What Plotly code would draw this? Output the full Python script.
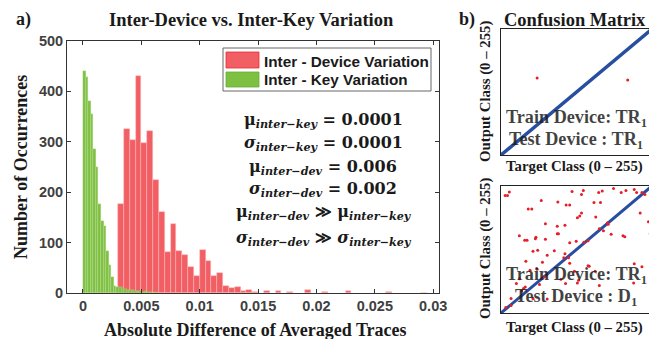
import plotly.graph_objects as go

# ---------------- data ----------------
# Inter-Device variation histogram (bin centers, counts)
red_centers = [0.00325, 0.00375, 0.00425, 0.00475, 0.00525, 0.00575, 0.00625, 0.00675,
               0.00725, 0.00775, 0.00825, 0.00875, 0.00925, 0.00975, 0.01025, 0.01075,
               0.01125, 0.01175, 0.01225, 0.01275, 0.01325, 0.01375, 0.01425, 0.01475,
               0.01575, 0.01675, 0.01775, 0.01925, 0.02075, 0.02275, 0.02625, 0.02925]
red_counts = [176, 325, 303, 431, 297, 321, 224, 160,
              81, 137, 83, 75, 52, 33, 85, 63,
              34, 39, 14, 9, 11, 3, 5, 2,
              4, 3, 2, 5, 2, 4, 2, 1]

# Inter-Key variation histogram (bin centers, counts)
green_centers = [0.00011, 0.00033, 0.00055, 0.00077, 0.00099, 0.00121, 0.00143, 0.00165,
                 0.00187, 0.00209, 0.00231, 0.00253, 0.00275, 0.00297, 0.00319, 0.00341,
                 0.00363, 0.00385, 0.00407, 0.00429, 0.00451, 0.00473, 0.00495, 0.00517,
                 0.00539, 0.00561, 0.00583, 0.00605, 0.00627]
green_counts = [441, 429, 381, 356, 285, 251, 177, 143,
                132, 84, 56, 32, 14, 12, 11, 9,
                7, 6, 5, 6, 4, 3, 4, 2,
                3, 2, 2, 1, 2]

x_tick_vals = [0, 0.005, 0.01, 0.015, 0.02, 0.025, 0.03]
x_tick_text = ["0", "0.005", "0.01", "0.015", "0.02", "0.025", "0.03"]
y_tick_vals = [0, 100, 200, 300, 400, 500]

# Confusion matrix misclassifications (target class, output class)
cm1_target = [61, 214]
cm1_output = [156, 152]

cm2_target = [7, 11, 14, 46, 52, 68, 96, 110, 116, 120, 139, 136, 133, 129, 136, 157, 165, 171,
              168, 190, 203, 211, 225, 229, 238, 243, 235, 249, 252, 75, 95, 108, 160, 181,
              180, 166, 173, 186, 206, 209, 31, 40, 44, 59, 58, 75, 95, 97, 116, 127, 140,
              147, 90, 54, 62, 78, 70, 42, 108, 106, 114, 147, 149, 116, 225, 238, 253, 49,
              61, 124, 159, 31, 73, 101, 131, 26, 65, 109, 129, 166, 224, 253, 38, 41, 78,
              54, 17, 8, 17, 35]
cm2_output = [236, 236, 243, 209, 209, 226, 223, 217, 217, 244, 246, 238, 195, 191, 201, 222,
              242, 245, 222, 250, 242, 246, 248, 242, 242, 238, 201, 183, 159, 179, 174, 176,
              193, 178, 181, 169, 165, 158, 155, 153, 155, 146, 146, 152, 149, 148, 159, 159,
              141, 144, 142, 145, 125, 124, 126, 116, 102, 104, 119, 111, 111, 95, 94, 100,
              99, 93, 94, 86, 88, 84, 84, 69, 73, 68, 66, 59, 57, 59, 60, 55, 60, 68, 49, 52,
              28, 29, 29, 11, 15, 44]

diag_class = [0, 255]

# ---------------- figure ----------------
# The page body has an 8px margin, so the figure is drawn 8px smaller and
# positions below are given in window pixels, shifted by that margin.
OFF = 8
W, H = 657 - OFF, 339 - OFF
def px(x):
    return (x - OFF) / W
def py(y):
    return 1 - (y - OFF) / H

SERIF = "Liberation Serif"
SANS = "Liberation Sans"
EQ = "DejaVu Serif"
RED = "rgb(241,94,100)"
GREEN = "rgb(126,192,66)"
BLUE = "rgb(40,78,160)"
AX = "#333333"

fig = go.Figure()

fig.add_trace(go.Bar(x=red_centers, y=red_counts, width=0.0005,
                     marker=dict(color=RED, line=dict(color="rgba(255,190,190,0.8)", width=0.6)),
                     name="Inter - Device Variation", xaxis="x", yaxis="y", showlegend=False))
fig.add_trace(go.Bar(x=green_centers, y=green_counts, width=0.00022,
                     marker=dict(color=GREEN, line=dict(color="rgba(200,235,170,0.7)", width=0.4)),
                     name="Inter - Key Variation", xaxis="x", yaxis="y", showlegend=False))

# confusion matrices
for xa, ya, tx, oy, lw in [("x2", "y2", cm1_target, cm1_output, 3.5), ("x3", "y3", cm2_target, cm2_output, 3)]:
    fig.add_trace(go.Scatter(x=diag_class, y=diag_class, mode="lines",
                             line=dict(color=BLUE, width=lw), xaxis=xa, yaxis=ya, showlegend=False))
    fig.add_trace(go.Scatter(x=tx, y=oy, mode="markers",
                             marker=dict(color="rgb(230,30,40)", size=3, line=dict(width=0)),
                             xaxis=xa, yaxis=ya, showlegend=False))

common_ax = dict(showgrid=False, zeroline=False, showline=True, linecolor=AX, linewidth=1,
                 mirror="allticks", ticks="inside", ticklen=4, tickcolor=AX, automargin=False,
                 tickfont=dict(family=SANS, size=14.5, color="#404040", weight="bold"))

cm_ax = dict(showgrid=False, zeroline=False, showline=True, linecolor="#222222", linewidth=1,
             mirror=True, ticks="", showticklabels=False, range=[0, 255], automargin=False)

fig.update_layout(
    width=W, height=H, margin=dict(l=0, r=0, t=0, b=0, pad=0, autoexpand=False),
    paper_bgcolor="white", plot_bgcolor="white",
    barmode="overlay", bargap=0, showlegend=False,
    xaxis=dict(domain=[px(67), px(439)], range=[-0.00137, 0.0305],
               tickvals=x_tick_vals, ticktext=x_tick_text, anchor="y", **common_ax),
    yaxis=dict(domain=[py(293), py(41)], range=[0, 500], tickvals=y_tick_vals,
               anchor="x", **common_ax),
    xaxis2=dict(domain=[px(501), px(652)], anchor="y2", **cm_ax),
    yaxis2=dict(domain=[py(155), py(29)], anchor="x2", **cm_ax),
    xaxis3=dict(domain=[px(501), px(652)], anchor="y3", **cm_ax),
    yaxis3=dict(domain=[py(313), py(186)], anchor="x3", **cm_ax),
)

ann = []
def A(text, x, y, size, family=SERIF, color="#1a1a1a", angle=0, xanchor="center", weight="bold"):
    ann.append(dict(text=text, x=px(x), y=py(y), xref="paper", yref="paper", showarrow=False,
                    xanchor=xanchor, yanchor="middle", textangle=angle,
                    font=dict(family=family, size=size, color=color, weight=weight)))

A("a)", 23, 19.5, 18)
A("b)", 467, 19.5, 18)
A("Inter-Device vs. Inter-Key Variation", 251, 20, 18.5)
A("Number of Occurrences", 21, 167, 18, angle=-90)
A("Absolute Difference of Averaged Traces", 255, 330, 18)

# legend (custom box)
shapes = [
    dict(type="rect", xref="paper", yref="paper", x0=px(223), x1=px(431), y0=py(91), y1=py(48),
         line=dict(color="#666666", width=1), fillcolor="white", layer="above"),
    dict(type="rect", xref="paper", yref="paper", x0=px(226), x1=px(259), y0=py(68), y1=py(52),
         line=dict(color="rgb(235,40,50)", width=0.8), fillcolor=RED, layer="above"),
    dict(type="rect", xref="paper", yref="paper", x0=px(226), x1=px(259), y0=py(87), y1=py(72),
         line=dict(color="rgb(100,175,50)", width=0.8), fillcolor=GREEN, layer="above"),
]
A("Inter - Device Variation", 262, 61, 15.3, family=SANS, xanchor="left")
A("Inter - Key Variation", 262, 80, 15.3, family=SANS, xanchor="left")

# statistics text
A("μ<sub><b><i>inter−key</i></b></sub> = 0.0001", 323, 120, 16, family=EQ)
A("<i>σ</i><sub><b><i>inter−key</i></b></sub> = 0.0001", 323, 143, 16, family=EQ)
A("μ<sub><b><i>inter−dev</i></b></sub> = 0.006", 323, 167, 16, family=EQ)
A("<i>σ</i><sub><b><i>inter−dev</i></b></sub> = 0.002", 323, 189, 16, family=EQ)
A("μ<sub><b><i>inter−dev</i></b></sub> ≫ μ<sub><b><i>inter−key</i></b></sub>", 324, 213, 16, family=EQ)
A("<i>σ</i><sub><b><i>inter−dev</i></b></sub> ≫ <i>σ</i><sub><b><i>inter−key</i></b></sub>", 324, 238, 16, family=EQ)

# confusion matrix texts
A("Confusion Matrix", 575, 20, 18.5)
A("Target Class (0 – 255)", 574, 166, 14.8)
A("Target Class (0 – 255)", 574, 327, 14.8)
A("Output Class (0 – 255)", 485, 92, 14.8, angle=-90)
A("Output Class (0 – 255)", 485, 249, 14.8, angle=-90)
A("Train Device: TR<sub>1</sub>", 576, 118, 18.2, color="rgba(30,30,30,0.85)")
A("Test Device : TR<sub>1</sub>", 576, 140, 18.2, color="rgba(30,30,30,0.85)")
A("Train Device: TR<sub>1</sub>", 576, 275, 18.2, color="rgba(30,30,30,0.85)")
A("Test Device : D<sub>1</sub>", 576, 297, 18.2, color="rgba(30,30,30,0.85)")

fig.update_layout(annotations=ann, shapes=shapes)
fig.write_html("out.html")
